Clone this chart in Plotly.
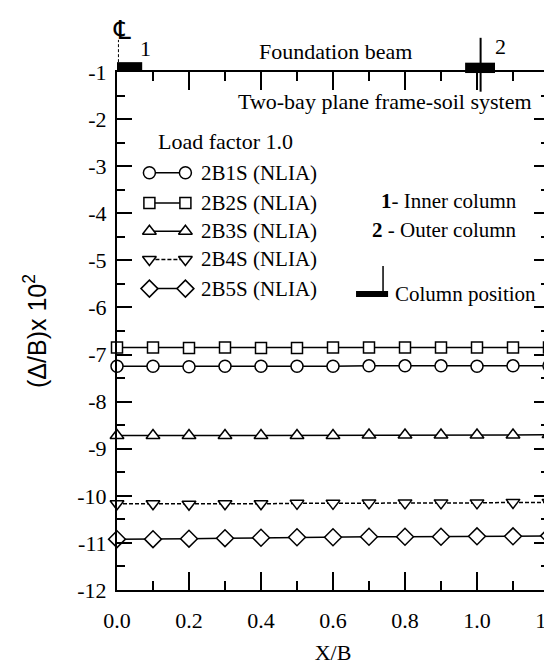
import plotly.graph_objects as go

# ---- data ----
x_b = [0.0, 0.1, 0.2, 0.3, 0.4, 0.5, 0.6, 0.7, 0.8, 0.9, 1.0, 1.1, 1.2]
s_2b1s = [-7.25, -7.25, -7.26, -7.25, -7.25, -7.25, -7.25, -7.24, -7.24, -7.24, -7.25, -7.24, -7.24]
s_2b2s = [-6.85, -6.85, -6.86, -6.85, -6.86, -6.86, -6.85, -6.85, -6.85, -6.85, -6.85, -6.85, -6.85]
s_2b3s = [-8.72, -8.72, -8.72, -8.72, -8.72, -8.72, -8.72, -8.71, -8.71, -8.71, -8.71, -8.71, -8.70]
s_2b4s = [-10.17, -10.17, -10.18, -10.17, -10.17, -10.16, -10.16, -10.15, -10.15, -10.15, -10.15, -10.14, -10.14]
s_2b5s = [-10.92, -10.92, -10.91, -10.90, -10.89, -10.88, -10.88, -10.87, -10.87, -10.87, -10.86, -10.86, -10.85]

series_names = ["2B1S (NLIA)", "2B2S (NLIA)", "2B3S (NLIA)", "2B4S (NLIA)", "2B5S (NLIA)"]
series_vals = [s_2b1s, s_2b2s, s_2b3s, s_2b4s, s_2b5s]

x_tickvals = [0.0, 0.2, 0.4, 0.6, 0.8, 1.0, 1.2]
x_ticktext = ["0.0", "0.2", "0.4", "0.6", "0.8", "1.0", "1.2"]
y_tickvals = [-1, -2, -3, -4, -5, -6, -7, -8, -9, -10, -11, -12]
y_ticktext = ["-1", "-2", "-3", "-4", "-5", "-6", "-7", "-8", "-9", "-10", "-11", "-12"]

# ---- styles ----
SERIF = "Liberation Serif, Times New Roman, serif"
SANS = "Liberation Sans, Arial, sans-serif"
symbols = ["circle", "square", "triangle-up", "triangle-down", "diamond"]
msizes = [12, 11, 12, 12, 13]
dashes = ["solid", "solid", "solid", "4px,2px", "solid"]

fig = go.Figure()
for name, vals, sym, ms, dash in zip(series_names, series_vals, symbols, msizes, dashes):
    fig.add_trace(go.Scatter(
        x=x_b, y=vals, mode="lines+markers", name=name, showlegend=False,
        line=dict(color="black", width=1.5, dash=dash),
        marker=dict(symbol=sym, size=ms, color="white",
                    line=dict(color="black", width=1.5)),
        cliponaxis=False,
    ))

# custom legend (inside plot)
leg_rows = [-3.14, -3.78, -4.38, -4.98, -5.6]
leg_x0, leg_x1, leg_tx = 0.09, 0.19, 0.228
for name, sym, ms, dash, yy in zip(series_names, symbols, msizes, dashes, leg_rows):
    fig.add_trace(go.Scatter(
        x=[leg_x0, leg_x1], y=[yy, yy], mode="lines+markers", showlegend=False,
        line=dict(color="black", width=1.5, dash=dash),
        marker=dict(symbol=sym, size=ms, color="white",
                    line=dict(color="black", width=1.5)),
        hoverinfo="skip",
    ))
    fig.add_annotation(x=leg_tx, y=yy, text=name, showarrow=False, xanchor="left",
                       yanchor="middle", font=dict(family=SERIF, size=21, color="black"))

fig.add_annotation(x=0.108, y=-2.47, text="Load factor 1.0", showarrow=False, xanchor="left",
                   yanchor="middle", font=dict(family=SERIF, size=22, color="black"))
fig.add_annotation(x=1.158, y=-1.62, text="Two-bay plane frame-soil system", showarrow=False,
                   xanchor="right", yanchor="middle", font=dict(family=SERIF, size=22, color="black"))
fig.add_annotation(x=1.117, y=-3.74, text="<b>1</b>- Inner column", showarrow=False,
                   xanchor="right", yanchor="middle", font=dict(family=SERIF, size=21, color="black"))
fig.add_annotation(x=1.117, y=-4.36, text="<b>2</b> - Outer column", showarrow=False,
                   xanchor="right", yanchor="middle", font=dict(family=SERIF, size=21, color="black"))
fig.add_annotation(x=0.767, y=-5.71, text="Column position", showarrow=False,
                   xanchor="left", yanchor="middle", font=dict(family=SERIF, size=21, color="black"))

# column position key symbol
fig.add_shape(type="rect", x0=0.664, x1=0.753, y0=-5.78, y1=-5.65,
              fillcolor="black", line=dict(width=0))
fig.add_shape(type="line", x0=0.739, x1=0.739, y0=-5.12, y1=-5.7,
              line=dict(color="black", width=1.5))

# top annotations (foundation beam and columns); paper y: 1.0 = top axis
fig.add_annotation(x=0.606, y=1.04, yref="paper", text="Foundation beam", showarrow=False,
                   xanchor="center", yanchor="middle", font=dict(family=SERIF, size=22, color="black"))
fig.add_annotation(x=0.015, y=1.082, yref="paper", text="\u2104", showarrow=False,
                   xanchor="center", yanchor="middle", font=dict(family="DejaVu Sans", size=26, color="black"))
fig.add_annotation(x=0.08, y=1.046, yref="paper", text="1", showarrow=False,
                   xanchor="center", yanchor="middle", font=dict(family=SERIF, size=22, color="black"))
fig.add_annotation(x=1.064, y=1.05, yref="paper", text="2", showarrow=False,
                   xanchor="center", yanchor="middle", font=dict(family=SERIF, size=22, color="black"))

fig.add_shape(type="rect", xref="x", yref="paper", x0=0.0, x1=0.07, y0=1.0, y1=1.019,
              fillcolor="black", line=dict(width=0))
fig.add_shape(type="rect", xref="x", yref="paper", x0=0.967, x1=1.05, y0=0.998, y1=1.018,
              fillcolor="black", line=dict(width=0))
fig.add_shape(type="line", xref="x", yref="paper", x0=1.01, x1=1.01, y0=0.962, y1=1.066,
              line=dict(color="black", width=2))
fig.add_shape(type="line", xref="x", yref="paper", x0=0.004, x1=0.004, y0=1.019, y1=1.062,
              line=dict(color="black", width=1, dash="3px,2px"))

fig.update_layout(
    width=552, height=664,
    margin=dict(l=109, r=11, t=64, b=82, autoexpand=False),
    paper_bgcolor="white", plot_bgcolor="white",
    font=dict(family=SERIF, size=22, color="black"),
    showlegend=False,
)
fig.update_xaxes(
    range=[0, 1.2], tickmode="array", tickvals=x_tickvals, ticktext=x_ticktext,
    ticks="inside", ticklen=18, tickwidth=1.5, tickcolor="black",
    showline=True, linecolor="black", linewidth=2, mirror="ticks",
    showgrid=False, zeroline=False, ticklabeloverflow="allow",
    tickfont=dict(family=SERIF, size=22, color="black"), ticklabelstandoff=10,
    minor=dict(ticks="inside", ticklen=9, tickwidth=1.5, tickcolor="black", dtick=0.1, tick0=0, showgrid=False),
    title=dict(text="X/B", font=dict(family=SERIF, size=22, color="black"), standoff=12),
)
fig.update_yaxes(
    range=[-12, -1], tickmode="array", tickvals=y_tickvals, ticktext=y_ticktext,
    ticks="inside", ticklen=15, tickwidth=1.5, tickcolor="black",
    showline=True, linecolor="black", linewidth=2, mirror="ticks",
    showgrid=False, zeroline=False,
    tickfont=dict(family=SERIF, size=22, color="black"), ticklabelstandoff=4,
    minor=dict(ticks="inside", ticklen=8, tickwidth=1.5, tickcolor="black", dtick=0.5, tick0=0, showgrid=False),
    title=dict(text="(\u0394/B)x 10<sup>2</sup>", font=dict(family=SANS, size=25, color="black"), standoff=24),
)

fig.write_html("out.html")
